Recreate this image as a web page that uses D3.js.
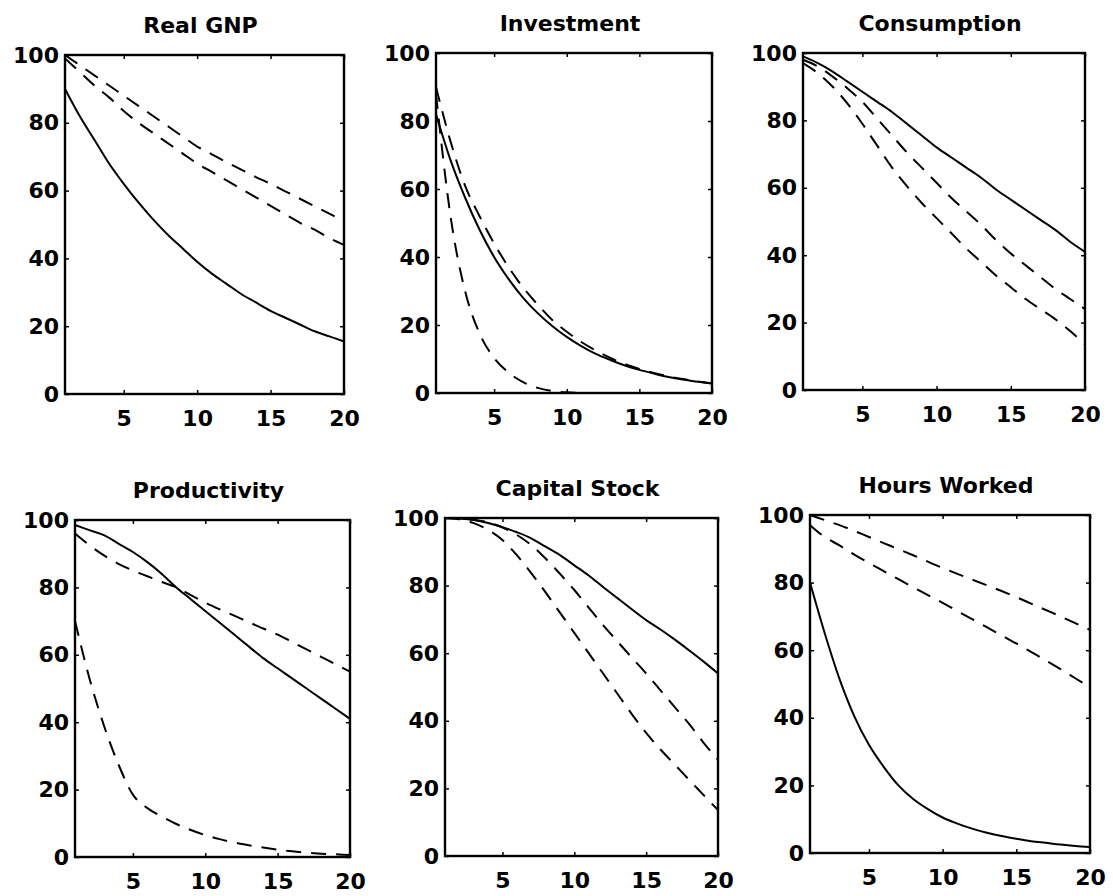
<!DOCTYPE html>
<html>
<head>
<meta charset="utf-8">
<script src="https://cdn.jsdelivr.net/npm/d3@7"></script>
<style>
  body { margin: 0; background: #fff; }
</style>
</head>
<body>
<script>
// periods on the horizontal axis
var periods = [1, 2, 3, 4, 5, 6, 7, 8, 9, 10, 11, 12, 13, 14, 15, 16, 17, 18, 19, 20];
var xTicks = [5, 10, 15, 20];
var yTicks = [0, 20, 40, 60, 80, 100];
var titles = ["Real GNP", "Investment", "Consumption", "Productivity", "Capital Stock", "Hours Worked"];

// Real GNP
var gnpSolid = [90, 82, 75, 68, 62, 56.5, 51.5, 47, 43, 39, 35.5, 32.5, 29.5, 27, 24.5, 22.5, 20.5, 18.5, 17, 15.5];
var gnpDashA = [100, 97, 94, 91, 88, 85, 82, 79, 76, 73, 70.7, 68.4, 66.2, 64, 62, 59.8, 57.6, 55.4, 53.2, 51];
var gnpDashB = [99, 95, 91, 87.5, 83.5, 80, 77, 74, 71, 68, 65.5, 63, 60.5, 58, 55.5, 53, 50.5, 48.5, 46, 44];

// Investment
var invSolid = [82, 68.5, 57.5, 48, 40, 33.5, 28, 23.5, 19.7, 16.5, 13.8, 11.5, 9.7, 8.1, 6.8, 5.7, 4.7, 4, 3.3, 2.8];
var invDashA = [90, 74, 61, 52, 44, 37, 31, 26, 21.5, 18, 15, 12.5, 10.3, 8.5, 7.1, 5.9, 4.9, 4.1, 3.4, 2.8];
var invDashB = [88, 52, 30, 17.5, 10.3, 6, 3.2, 1.5, 0.6, 0.2, 0.05, 0, 0, 0, 0, 0, 0, 0, 0, 0];

// Consumption
var conSolid = [99, 97, 94.5, 91.5, 88.5, 85.5, 82.5, 79, 75.5, 72, 69, 66, 63, 59.5, 56.5, 53.5, 50.5, 47.5, 44, 41];
var conDashA = [98, 96, 93, 89.5, 85.5, 80.5, 75.5, 70.5, 66, 61.5, 57, 53, 49, 44.5, 40.5, 37, 33.5, 30, 27, 24];
var conDashB = [97, 94, 90, 85, 79, 72.5, 66, 60.5, 55.5, 51, 46.5, 42, 38, 34, 30.5, 27, 24, 21, 17.5, 13.5];

// Productivity
var proSolid = [98.5, 97, 95.5, 93, 90.5, 87.5, 84, 80, 76.5, 73, 69.5, 66, 62.5, 59, 56, 53, 50, 47, 44, 41];
var proDashA = [96, 92.5, 89.5, 87, 85, 83.3, 81.6, 80, 77.7, 75.5, 73.5, 71.6, 69.7, 67.8, 66, 63.8, 61.6, 59.4, 57.2, 55];
var proDashB = [70, 53, 39, 27.5, 18.5, 14.5, 12, 9.8, 8, 6.5, 5.3, 4.3, 3.5, 2.8, 2.2, 1.7, 1.3, 1, 0.8, 0.6];

// Capital Stock
var capSolid = [100, 99.8, 99.4, 98.5, 97.3, 95.8, 94, 91.5, 89, 86, 83, 79.6, 76.3, 73, 69.8, 67, 64, 60.8, 57.5, 54];
var capDashA = [100, 99.9, 99.5, 98.7, 97.2, 95, 92, 88, 83.5, 78.7, 73.5, 68.3, 63.5, 58.7, 54, 49, 44, 39, 33.5, 28.5];
var capDashB = [100, 99.6, 98.5, 96.5, 93.5, 89, 83.7, 78, 72, 66, 60, 54, 48, 42, 36.4, 31.5, 27, 22.5, 18, 13.6];

// Hours Worked
var hrsSolid = [80, 65, 51.5, 40.5, 32, 25.5, 20, 16, 13, 10.5, 8.7, 7.2, 6, 5, 4.2, 3.5, 3, 2.5, 2.1, 1.8];
var hrsDashA = [100, 98.5, 97, 95.3, 93.5, 91.7, 89.9, 88.1, 86.2, 84.3, 82.6, 80.9, 79.2, 77.5, 75.7, 73.8, 71.9, 70, 68, 66];
var hrsDashB = [97, 93.5, 91, 88.3, 85.8, 83.4, 81, 78.6, 76.3, 74, 71.6, 69.2, 66.8, 64.4, 62, 59.5, 57, 54.4, 51.7, 49];

var panelSeries = [
    [gnpSolid, gnpDashA, gnpDashB],
    [invSolid, invDashA, invDashB],
    [conSolid, conDashA, conDashB],
    [proSolid, proDashA, proDashB],
    [capSolid, capDashA, capDashB],
    [hrsSolid, hrsDashA, hrsDashB]
];

// box of each panel on the page
var boxes = [
    { left: 65, right: 344, top: 55, bottom: 394 },
    { left: 436, right: 712, top: 53, bottom: 393 },
    { left: 803, right: 1085, top: 53, bottom: 390 },
    { left: 75, right: 350, top: 520, bottom: 857 },
    { left: 445, right: 718, top: 518, bottom: 856 },
    { left: 810, right: 1090, top: 515, bottom: 853 }
];

var font = "'DejaVu Sans', sans-serif";

var svg = d3.select("body")
    .append("svg")
    .attr("width", 1113)
    .attr("height", 896);

boxes.forEach(function(b, i){
    var x = d3.scaleLinear().domain([1, 20]).range([b.left, b.right]);
    var y = d3.scaleLinear().domain([0, 100]).range([b.bottom, b.top]);
    var g = svg.append("g");

    // title
    g.append("text")
        .attr("x", (b.left + b.right) / 2 - 4)
        .attr("y", b.top - 22)
        .attr("text-anchor", "middle")
        .attr("font-family", font)
        .attr("font-weight", "bold")
        .attr("font-size", 22)
        .text(titles[i]);

    // labelled axes, ticks pointing inward
    var bottomAxis = g.append("g")
        .attr("transform", "translate(0," + b.bottom + ")")
        .call(d3.axisBottom(x).tickValues(xTicks).tickSizeInner(-4).tickSizeOuter(0).tickPadding(16));
    var leftAxis = g.append("g")
        .attr("transform", "translate(" + b.left + ",0)")
        .call(d3.axisLeft(y).tickValues(yTicks).tickSizeInner(-4).tickSizeOuter(0).tickPadding(6));
    // unlabelled top and right ticks
    var topAxis = g.append("g")
        .attr("transform", "translate(0," + b.top + ")")
        .call(d3.axisTop(x).tickValues(xTicks).tickSizeInner(-4).tickSizeOuter(0).tickFormat(""));
    var rightAxis = g.append("g")
        .attr("transform", "translate(" + b.right + ",0)")
        .call(d3.axisRight(y).tickValues(yTicks).tickSizeInner(-4).tickSizeOuter(0).tickFormat(""));

    [bottomAxis, leftAxis, topAxis, rightAxis].forEach(function(a){
        a.attr("font-family", font).attr("font-size", 22).attr("font-weight", "bold");
        a.select(".domain").remove();
        a.selectAll("line").attr("stroke", "#000").attr("stroke-width", 1.5);
        a.selectAll("text").attr("fill", "#000");
    });

    // series lines
    var line = d3.line()
        .x(function(d, j){ return x(periods[j]); })
        .y(function(d){ return y(d); })
        .curve(d3.curveMonotoneX);

    g.selectAll(".series")
        .data(panelSeries[i])
        .enter()
        .append("path")
        .attr("class", "series")
        .attr("d", line)
        .attr("fill", "none")
        .attr("stroke", "#000")
        .attr("stroke-width", 2)
        .attr("stroke-dasharray", function(d, k){ return k === 0 ? null : "15,10"; });

    // frame
    g.append("rect")
        .attr("x", b.left)
        .attr("y", b.top)
        .attr("width", b.right - b.left)
        .attr("height", b.bottom - b.top)
        .attr("fill", "none")
        .attr("stroke", "#000")
        .attr("stroke-width", 2.4);
});
</script>
</body>
</html>
